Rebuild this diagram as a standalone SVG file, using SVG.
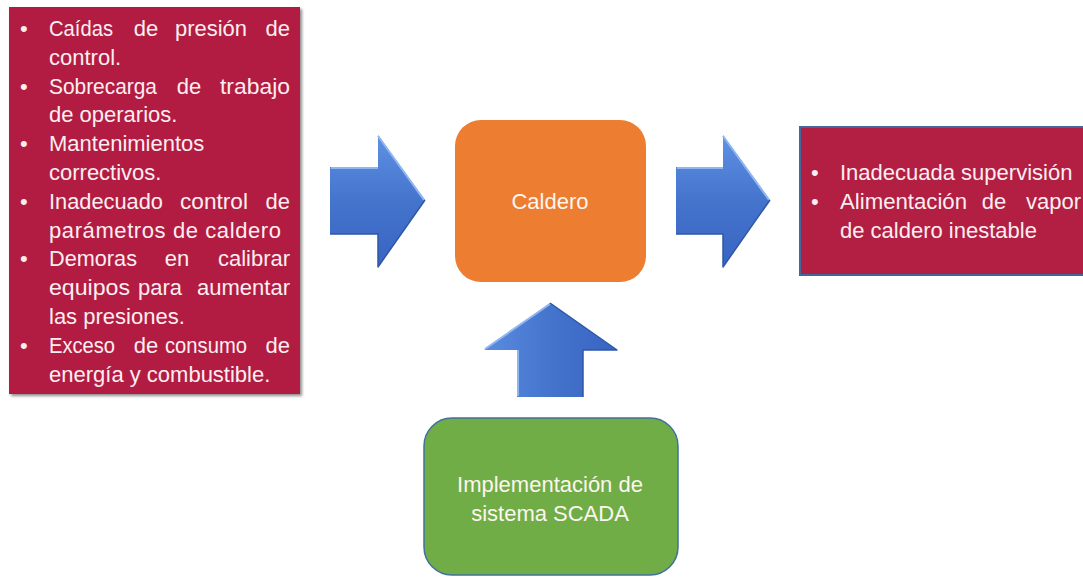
<svg xmlns="http://www.w3.org/2000/svg" width="1083" height="577" viewBox="0 0 1083 577">
<defs>
<linearGradient id="gH" x1="0" y1="0" x2="0" y2="1">
<stop offset="0" stop-color="#5f91e4"/>
<stop offset="0.5" stop-color="#4474cc"/>
<stop offset="1" stop-color="#3864c2"/>
</linearGradient>
<linearGradient id="gV" x1="0" y1="0" x2="1" y2="0">
<stop offset="0" stop-color="#5a8ce0"/>
<stop offset="0.5" stop-color="#4474cc"/>
<stop offset="1" stop-color="#3864c2"/>
</linearGradient>
<filter id="sh" x="-5%" y="-5%" width="115%" height="115%">
<feGaussianBlur in="SourceAlpha" stdDeviation="1.5"/>
<feOffset dx="2" dy="2" result="b"/>
<feComponentTransfer><feFuncA type="linear" slope="0.45"/></feComponentTransfer>
<feMerge><feMergeNode/><feMergeNode in="SourceGraphic"/></feMerge>
</filter>
</defs>
<style>
.t{font-family:"Liberation Sans",Arial,sans-serif;font-size:22px;fill:#fbeef0}
.tw{font-family:"Liberation Sans",Arial,sans-serif;font-size:22px;fill:#fdf6ee}
.c{text-anchor:middle}
.e{text-anchor:end}
.red{fill:#b31e43}
.hl{fill:none;stroke:#8fb6f2;stroke-width:2;stroke-linejoin:round}
.dk{fill:none;stroke:#2f57a8;stroke-width:1.5;stroke-linejoin:round}
</style>

<g id="causes">
<rect class="red" x="9" y="7" width="291" height="387" filter="url(#sh)"/>
<g class="t">
<text x="20" y="36">•</text><text x="49" y="36" textLength="64" lengthAdjust="spacingAndGlyphs">Caídas</text><text x="146" y="36" class="c">de</text><text x="175" y="36" textLength="72" lengthAdjust="spacingAndGlyphs">presión</text><text x="290" y="36" class="e">de</text>
<text x="49" y="65">control.</text>
<text x="20" y="94">•</text><text x="49" y="94" textLength="108" lengthAdjust="spacingAndGlyphs">Sobrecarga</text><text x="189" y="94" class="c">de</text><text x="220" y="94" textLength="70" lengthAdjust="spacingAndGlyphs">trabajo</text>
<text x="49" y="122">de operarios.</text>
<text x="20" y="151">•</text><text x="49" y="151">Mantenimientos</text>
<text x="49" y="180">correctivos.</text>
<text x="20" y="209">•</text><text x="49" y="209" textLength="114" lengthAdjust="spacingAndGlyphs">Inadecuado</text><text x="180" y="209" textLength="68" lengthAdjust="spacingAndGlyphs">control</text><text x="290" y="209" class="e">de</text>
<text x="49" y="238" textLength="232" lengthAdjust="spacing">parámetros de caldero</text>
<text x="20" y="266">•</text><text x="49" y="266" textLength="88" lengthAdjust="spacingAndGlyphs">Demoras</text><text x="177" y="266" class="c">en</text><text x="218" y="266" textLength="72" lengthAdjust="spacingAndGlyphs">calibrar</text>
<text x="49" y="295" textLength="81" lengthAdjust="spacingAndGlyphs">equipos</text><text x="138" y="295" textLength="44" lengthAdjust="spacingAndGlyphs">para</text><text x="197" y="295" textLength="93" lengthAdjust="spacingAndGlyphs">aumentar</text>
<text x="49" y="324">las presiones.</text>
<text x="20" y="353">•</text><text x="49" y="353" textLength="66" lengthAdjust="spacingAndGlyphs">Exceso</text><text x="146" y="353" class="c">de</text><text x="165" y="353" textLength="82" lengthAdjust="spacingAndGlyphs">consumo</text><text x="290" y="353" class="e">de</text>
<text x="49" y="382">energía y combustible.</text>
</g>
</g>

<g id="caldero">
<rect x="455" y="120" width="191" height="162" rx="26" fill="#ed7d31"/>
<text x="550" y="209" class="tw c">Caldero</text>
</g>

<g id="effects">
<rect x="800" y="127" width="290" height="148" class="red" stroke="#44679a" stroke-width="2"/>
<g class="t">
<text x="811" y="180">•</text><text x="840" y="180">Inadecuada supervisión</text>
<text x="811" y="209">•</text><text x="840" y="209" textLength="127" lengthAdjust="spacingAndGlyphs">Alimentación</text><text x="994" y="209" class="c">de</text><text x="1081" y="209" class="e">vapor</text>
<text x="840" y="238">de caldero inestable</text>
</g>
</g>

<g id="scada">
<rect x="424" y="418" width="254" height="157" rx="28" fill="#70ad47" stroke="#41719c" stroke-width="1.5"/>
<text x="550" y="492" class="tw c">Implementación de</text>
<text x="550" y="521" class="tw c">sistema SCADA</text>
</g>

<g id="connectors">
<g id="arrow-left">
<path d="M330 167 H378 V135 L425 200 L378 267 V234 H330 Z" fill="url(#gH)"/>
<path class="hl" d="M331 168 H378 M378 136 L424 200"/>
<path class="dk" d="M330 234 H378 V267 L425 200"/>
</g>
<g id="arrow-right">
<path d="M676 167 H723 V135 L770 200 L723 267 V234 H676 Z" fill="url(#gH)"/>
<path class="hl" d="M677 168 H723 M723 136 L769 200"/>
<path class="dk" d="M676 234 H723 V267 L770 200"/>
</g>
<g id="arrow-up">
<path d="M517 397 V350 H484 L550 303 L617 350 H583 V397 Z" fill="url(#gV)"/>
<path class="hl" d="M518 396 V350 M485 349 L550 304"/>
<path class="dk" d="M583 397 V350 H617 L550 303"/>
</g>
</g>
</svg>
